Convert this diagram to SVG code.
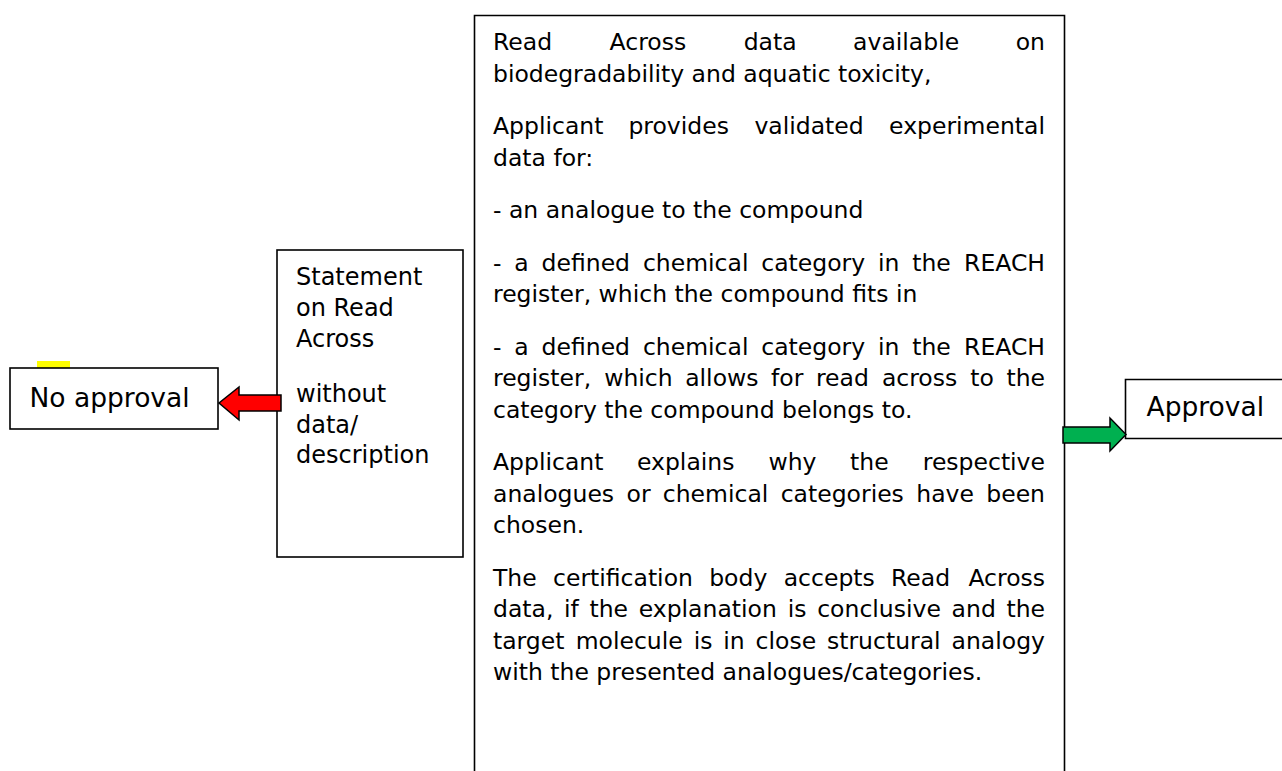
<svg xmlns="http://www.w3.org/2000/svg" width="1282" height="771" viewBox="0 0 1282 771">
<style>
.box{fill:#fff;stroke:#000;stroke-width:1.6}
.m{font-family:"DejaVu Sans",Verdana,sans-serif;font-size:23.5px;fill:#000}
.s{font-family:"DejaVu Sans",Verdana,sans-serif;font-size:24px;fill:#000}
.b{font-family:"DejaVu Sans",Verdana,sans-serif;font-size:26.5px;fill:#000}
.e{text-anchor:end}
.arrow{stroke:#000;stroke-width:1.5;stroke-linejoin:miter}
</style>
<rect width="1282" height="771" fill="#fff"/>
<g id="node-main">
<path class="box" d="M474.5 775 V15.5 H1064.5 V775"/>
<text class="m" y="50"><tspan x="493">Read</tspan> <tspan x="609.6">Across</tspan> <tspan x="743.7">data</tspan> <tspan x="853.1">available</tspan> <tspan class="e" x="1045">on</tspan></text>
<text class="m" x="493" y="81.5">biodegradability and aquatic toxicity,</text>
<text class="m" y="134"><tspan x="493">Applicant</tspan> <tspan x="628.4">provides</tspan> <tspan x="754.4">validated</tspan> <tspan class="e" x="1045">experimental</tspan></text>
<text class="m" x="493" y="165.5">data for:</text>
<text class="m" x="493" y="218">- an analogue to the compound</text>
<text class="m" y="270.5"><tspan x="493">-</tspan> <tspan x="514.3">a</tspan> <tspan x="541.6">defined</tspan> <tspan x="642.9">chemical</tspan> <tspan x="761.3">category</tspan> <tspan x="878">in</tspan> <tspan x="912.2">the</tspan> <tspan class="e" x="1045">REACH</tspan></text>
<text class="m" x="493" y="302">register, which the compound fits in</text>
<text class="m" y="354.5"><tspan x="493">-</tspan> <tspan x="514.3">a</tspan> <tspan x="541.6">defined</tspan> <tspan x="642.9">chemical</tspan> <tspan x="761.3">category</tspan> <tspan x="878">in</tspan> <tspan x="912.2">the</tspan> <tspan class="e" x="1045">REACH</tspan></text>
<text class="m" y="386"><tspan x="493">register,</tspan> <tspan x="604.2">which</tspan> <tspan x="685.2">allows</tspan> <tspan x="771">for</tspan> <tspan x="815.9">read</tspan> <tspan x="881.9">across</tspan> <tspan x="970.3">to</tspan> <tspan class="e" x="1045">the</tspan></text>
<text class="m" x="493" y="417.5">category the compound belongs to.</text>
<text class="m" y="470"><tspan x="493">Applicant</tspan> <tspan x="637">explains</tspan> <tspan x="768.5">why</tspan> <tspan x="850.1">the</tspan> <tspan class="e" x="1045">respective</tspan></text>
<text class="m" y="501.5"><tspan x="493">analogues</tspan> <tspan x="626.5">or</tspan> <tspan x="662.8">chemical</tspan> <tspan x="780.7">categories</tspan> <tspan x="916.3">have</tspan> <tspan class="e" x="1045">been</tspan></text>
<text class="m" x="493" y="533">chosen.</text>
<text class="m" y="585.5"><tspan x="493">The</tspan> <tspan x="553">certification</tspan> <tspan x="709.2">body</tspan> <tspan x="783.7">accepts</tspan> <tspan x="891.1">Read</tspan> <tspan class="e" x="1045">Across</tspan></text>
<text class="m" y="617"><tspan x="493">data,</tspan> <tspan x="564">if</tspan> <tspan x="589.5">the</tspan> <tspan x="638.7">explanation</tspan> <tspan x="787.8">is</tspan> <tspan x="817.2">conclusive</tspan> <tspan x="951.6">and</tspan> <tspan class="e" x="1045">the</tspan></text>
<text class="m" y="648.5"><tspan x="493">target</tspan> <tspan x="575.7">molecule</tspan> <tspan x="693.7">is</tspan> <tspan x="723.3">in</tspan> <tspan x="755.6">close</tspan> <tspan x="827">structural</tspan> <tspan class="e" x="1045">analogy</tspan></text>
<text class="m" x="493" y="680">with the presented analogues/categories.</text>
</g>
<g id="node-statement">
<rect class="box" x="277" y="250" width="186" height="307"/>
<text class="s" x="296" y="285">Statement</text>
<text class="s" x="296" y="316">on Read</text>
<text class="s" x="296" y="347">Across</text>
<text class="s" x="296" y="402">without</text>
<text class="s" x="296" y="433">data/</text>
<text class="s" x="296" y="463">description</text>
</g>
<g id="node-no-approval">
<rect x="37" y="361" width="33" height="7" fill="#ffff00"/>
<rect class="box" x="10" y="368" width="208" height="61"/>
<text class="b" x="29.5" y="407">No approval</text>
</g>
<g id="node-approval">
<path class="box" d="M1290 379.5 H1125.5 V438.5 H1290"/>
<text class="b" x="1146.5" y="416">Approval</text>
</g>
<g id="connectors">
<polygon class="arrow" fill="#ff0000" points="281,395 239,395 239,387 219,403 239,420 239,411 281,411"/>
<polygon class="arrow" fill="#00b050" points="1063,427 1110,427 1110,418 1126,434.5 1110,451 1110,443 1063,443"/>
</g>
</svg>
